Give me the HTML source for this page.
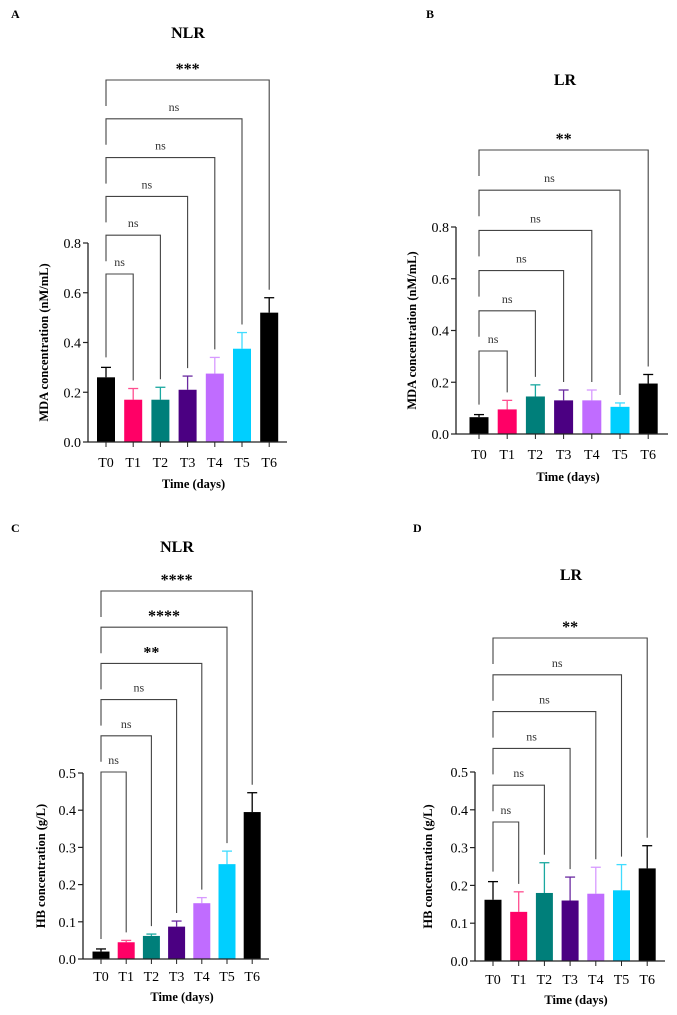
<!DOCTYPE html>
<html><head><meta charset="utf-8">
<style>
html,body{margin:0;padding:0;background:#fff;}
svg{display:block;font-family:"Liberation Serif",serif;}
</style></head>
<body>
<svg id="fig" width="677" height="1015" viewBox="0 0 677 1015"></svg>
<script>
const categories = ["T0","T1","T2","T3","T4","T5","T6"];
const colors = ["#000000","#ff0066","#007f7a","#4b0082","#c06cff","#00cfff","#000000"];
const errColors = ["#000000","#ff4d8f","#1aa8a0","#6a2aa0","#d79aff","#40dcff","#000000"];
const meanA = [0.26,0.17,0.17,0.21,0.275,0.375,0.52];
const errA  = [0.04,0.045,0.05,0.055,0.065,0.065,0.06];
const meanB = [0.065,0.095,0.145,0.13,0.13,0.105,0.195];
const errB  = [0.01,0.035,0.045,0.04,0.04,0.015,0.035];
const meanC = [0.02,0.045,0.062,0.087,0.15,0.255,0.395];
const errC  = [0.007,0.005,0.005,0.015,0.015,0.035,0.052];
const meanD = [0.162,0.13,0.18,0.16,0.178,0.187,0.245];
const errD  = [0.048,0.053,0.08,0.062,0.07,0.068,0.06];
const sigA = ["ns","ns","ns","ns","ns","***"];
const sigB = ["ns","ns","ns","ns","ns","**"];
const sigC = ["ns","ns","ns","**","****","****"];
const sigD = ["ns","ns","ns","ns","ns","**"];
const ticksMDA = [0,0.2,0.4,0.6,0.8];
const ticksHB = [0,0.1,0.2,0.3,0.4,0.5];

const NS="http://www.w3.org/2000/svg";
const svg=document.getElementById('fig');
function mk(tag,attrs,parent){const e=document.createElementNS(NS,tag);for(const k in attrs)e.setAttribute(k,attrs[k]);(parent||svg).appendChild(e);return e;}

function panel(cfg){
  const g=mk('g',{});
  
  
  const yMax=cfg.ticks[cfg.ticks.length-1];
  const y=v=>cfg.y0-(v/yMax)*(cfg.y0-cfg.yTop);
  const x=i=>cfg.x0c+i*cfg.step;
  let t=mk('text',{x:cfg.lx,y:cfg.ly,'font-size':12,'font-weight':'bold'},g);t.textContent=cfg.letter;
  
  t=mk('text',{x:cfg.tx,y:cfg.ty,'font-size':16,'font-weight':'bold','text-anchor':'middle'},g);t.textContent=cfg.title;
  
  cfg.mean.forEach((m,i)=>{
    const top=y(m+cfg.err[i]);
    let l=mk('line',{x1:x(i),x2:x(i),y1:y(m),y2:top,stroke:errColors[i],'stroke-width':1.3},g);
    
    l=mk('line',{x1:x(i)-5,x2:x(i)+5,y1:top,y2:top,stroke:errColors[i],'stroke-width':1.3},g);
    
    const r=mk('rect',{x:x(i)-cfg.bw/2,y:y(m),width:cfg.bw,height:cfg.y0-y(m),fill:colors[i]},g);
    
    const tk=mk('line',{x1:x(i),x2:x(i),y1:cfg.y0,y2:cfg.y0+5,stroke:'#222','stroke-width':1},g);
    
    const tl=mk('text',{x:x(i),y:cfg.xly,'font-size':14,'text-anchor':'middle'},g);tl.textContent=categories[i];
    
  });
  let a=mk('line',{x1:cfg.ax,x2:cfg.ax,y1:cfg.yTop,y2:cfg.y0,stroke:'#222','stroke-width':1.3},g);
  
  a=mk('line',{x1:cfg.ax,x2:cfg.axEnd,y1:cfg.y0,y2:cfg.y0,stroke:'#222','stroke-width':1.3},g);
  
  cfg.ticks.forEach(v=>{
    const l=mk('line',{x1:cfg.ax-5,x2:cfg.ax,y1:y(v),y2:y(v),stroke:'#222','stroke-width':1.2},g);
    
    const tl=mk('text',{x:cfg.ax-7,y:y(v)+5,'font-size':14,'text-anchor':'end'},g);tl.textContent=v.toFixed(1);
    
  });
  t=mk('text',{x:0,y:0,'font-size':12.5,'font-weight':'bold','text-anchor':'middle',transform:`translate(${cfg.ytx},${(cfg.y0+cfg.yTop)/2}) rotate(-90)`},g);
  t.textContent=cfg.ytitle;
  t=mk('text',{x:(cfg.ax+cfg.axEnd)/2+6,y:cfg.xty,'font-size':12.5,'font-weight':'bold','text-anchor':'middle'},g);
  t.textContent='Time (days)';
  cfg.sig.forEach((s,k)=>{
    const by=cfg.by0-k*cfg.bstep;
    const j=k+1;
    const leftEnd = k===0 ? y(cfg.mean[0]+cfg.err[0])-10 : by+26;
    const rightEnd = y(cfg.mean[j]+cfg.err[j])-8;
    const p=mk('path',{d:`M${x(0)},${leftEnd}V${by}H${x(j)}V${rightEnd}`,fill:'none',stroke:'#444','stroke-width':1.1},g);
    
    const star=s!=='ns';
    const lt=mk('text',{x:(x(0)+x(j))/2,y:star?by-6:by-8,'font-size':star?16:12,'font-weight':star?'bold':'normal','text-anchor':'middle',fill:star?'#000':'#333'},g);
    lt.textContent=s;
  });
}
panel({letter:'A',lx:11,ly:18,title:'NLR',tx:188,ty:38,mean:meanA,err:errA,sig:sigA,ticks:ticksMDA,
  ax:88,axEnd:287,y0:442,yTop:243,x0c:106,step:27.2,bw:18,xly:467,xty:488,ytx:48,ytitle:'MDA concentration (nM/mL)',by0:274,bstep:38.8});
panel({letter:'B',lx:426,ly:18,title:'LR',tx:565,ty:85,mean:meanB,err:errB,sig:sigB,ticks:ticksMDA,
  ax:456,axEnd:668,y0:434,yTop:227,x0c:479,step:28.2,bw:19,xly:459,xty:481,ytx:416,ytitle:'MDA concentration (nM/mL)',by0:351,bstep:40.2});
panel({letter:'C',lx:11,ly:532,title:'NLR',tx:177,ty:552,mean:meanC,err:errC,sig:sigC,ticks:ticksHB,
  ax:83,axEnd:269,y0:959,yTop:773,x0c:101,step:25.2,bw:17,xly:981,xty:1001,ytx:45,ytitle:'HB concentration (g/L)',by0:772,bstep:36.2});
panel({letter:'D',lx:413,ly:532,title:'LR',tx:571,ty:580,mean:meanD,err:errD,sig:sigD,ticks:ticksHB,
  ax:475,axEnd:665,y0:961,yTop:772,x0c:493,step:25.7,bw:17,xly:984,xty:1004,ytx:432,ytitle:'HB concentration (g/L)',by0:822,bstep:36.8});
</script>
</body></html>
